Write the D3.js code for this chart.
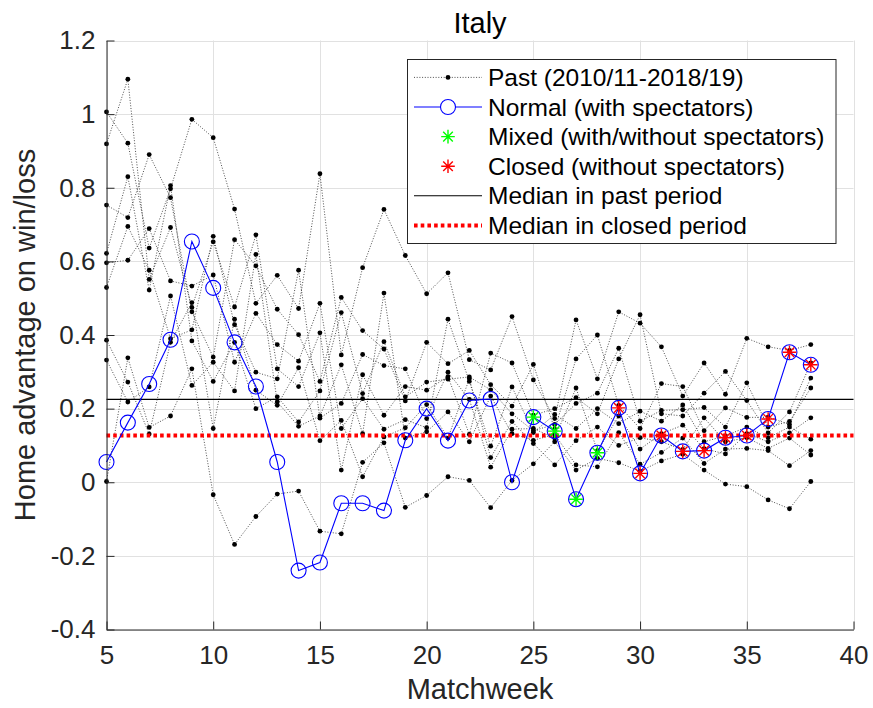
<!DOCTYPE html>
<html><head><meta charset="utf-8">
<script src="https://cdn.jsdelivr.net/npm/d3@7"></script>
<style>body{margin:0;background:#fff}svg{display:block;font-family:"Liberation Sans",Arial,Helvetica,sans-serif}</style>
</head><body><svg id="c" width="873" height="708"></svg>
<script>
// ---------- data ----------
const weeks = [5,6,7,8,9,10,11,12,13,14,15,16,17,18,19,20,21,22,23,24,25,26,27,28,29,30,31,32,33,34,35,36,37,38];
const past_2010_11 = [1.006,0.921,0.636,0.797,0.986,0.936,0.742,0.486,0.562,0.472,0.838,0.346,0.583,0.741,0.616,0.512,0.569,0.333,0.305,0.450,0.278,0.173,0.441,0.281,0.463,0.432,0.368,0.234,0.324,0.239,0.391,0.368,0.358,0.374];
const past_2011_12 = [0.919,1.095,0.551,0.692,0.475,0.653,0.476,0.672,0.308,0.260,0.406,0.033,0.292,0.182,0.260,0.250,0.287,0.130,0.351,0.324,0.182,0.200,0.230,0.186,0.335,0.455,0.186,0.180,0.242,0.301,0.222,0.134,0.191,0.324];
const past_2012_13 = [0.753,0.719,0.890,0.773,0.463,0.340,0.659,0.588,0.470,0.401,0.274,0.502,0.412,0.362,0.221,0.380,0.322,0.358,0.265,0.207,0.320,0.144,0.335,0.400,0.209,0.146,0.268,0.260,0.140,0.202,0.176,0.177,0.157,0.283];
const past_2013_14 = [0.622,0.830,0.522,0.806,0.384,0.274,0.380,0.200,0.232,0.164,0.248,0.461,0.241,0.382,0.232,0.272,0.280,0.286,0.251,0.186,0.140,0.157,0.214,0.242,0.364,0.166,0.195,0.197,0.203,0.150,0.270,0.150,0.165,0.256];
const past_2014_15 = [0.596,0.603,0.689,0.547,0.533,0.563,0.326,0.459,0.374,0.329,0.486,0.146,0.227,0.144,0.170,0.148,0.443,0.274,0.098,0.259,0.135,0.184,0.146,0.200,0.159,0.193,0.166,0.210,0.110,0.126,0.150,0.121,0.150,0.117];
const past_2015_16 = [0.529,0.695,0.576,0.390,0.414,0.668,0.428,0.299,0.281,0.576,0.174,0.214,0.347,0.317,0.308,0.173,0.299,0.225,0.041,0.144,0.146,0.120,0.256,0.085,0.180,0.090,0.132,0.155,0.091,0.077,0.132,0.110,0.134,0.175];
const past_2016_17 = [0.386,0.272,0.131,0.380,0.488,0.146,0.443,0.250,0.209,0.311,0.113,0.168,0.015,0.123,0.148,0.211,0.120,0.281,0.067,0.165,0.105,0.047,0.113,0.150,0.100,0.121,0.110,0.089,0.175,0.110,0.121,0.092,0.120,0.074];
const past_2017_18 = [0.332,0.218,0.259,0.506,0.263,0.326,0.248,0.619,0.218,0.152,0.180,0.319,0.132,0.514,0.120,0.137,0.191,0.110,0.234,0.132,0.114,0.130,0.047,0.042,0.135,0.049,0.081,0.120,0.051,0.090,0.092,0.086,0.045,0.086];
const past_2018_19 = [0.002,0.338,0.149,0.180,0.308,-0.034,-0.169,-0.093,-0.032,-0.024,-0.133,-0.140,0.054,0.107,-0.068,-0.036,0.015,0.005,-0.069,0.005,0.050,0.110,0.033,0.065,0.053,0.030,0.058,0.076,0.033,-0.005,-0.012,-0.048,-0.072,0.002];
const pastSeasons = [past_2010_11,past_2011_12,past_2012_13,past_2013_14,past_2014_15,past_2015_16,past_2016_17,past_2017_18,past_2018_19];
const current_2019_20 = [0.055,0.162,0.267,0.387,0.654,0.528,0.380,0.260,0.055,-0.240,-0.218,-0.057,-0.057,-0.077,0.114,0.200,0.113,0.222,0.226,0.000,0.177,0.139,-0.046,0.080,0.202,0.024,0.127,0.084,0.086,0.121,0.127,0.172,0.353,0.319];
const mixedWeeks = [25,26,27,28];
const closedWeeks = [29,30,31,32,33,34,35,36,37,38];
const pastMedian = 0.225;
const closedMedian = 0.127;
const xTicks = [5,10,15,20,25,30,35,40];
const yTicks = [-0.4,-0.2,0,0.2,0.4,0.6,0.8,1,1.2];
const legendLabels = ["Past (2010/11-2018/19)","Normal (with spectators)","Mixed (with/without spectators)","Closed (without spectators)","Median in past period","Median in closed period"];

// ---------- drawing ----------
const svg = d3.select("#c");
const L = 106.5, R = 853.5, T = 40.5, B = 629.5;
const x = d3.scaleLinear().domain([5,40]).range([L,R]);
const y = d3.scaleLinear().domain([-0.4,1.2]).range([B,T]);
const axisCol = "#262626";
const fmt = d => String(+d.toFixed(1));

// grid
const g = svg.append("g");
g.selectAll("line.gx").data(xTicks).join("line")
  .attr("x1",d=>Math.round(x(d))+0.5).attr("x2",d=>Math.round(x(d))+0.5).attr("y1",T).attr("y2",B)
  .attr("stroke","#e1e1e1").attr("stroke-width",1);
g.selectAll("line.gy").data(yTicks).join("line")
  .attr("y1",d=>Math.round(y(d))+0.5).attr("y2",d=>Math.round(y(d))+0.5).attr("x1",L).attr("x2",R)
  .attr("stroke","#e1e1e1").attr("stroke-width",1);

// past seasons
const line = d3.line().x((d,i)=>x(weeks[i])).y(d=>y(d));
const pg = svg.append("g");
pastSeasons.forEach(s=>{
  pg.append("path").attr("d",line(s)).attr("fill","none")
    .attr("stroke","#3a3a3a").attr("stroke-width",0.9).attr("stroke-dasharray","1 1.7");
});
pastSeasons.forEach(s=>{
  pg.selectAll(null).data(s).join("circle")
    .attr("cx",(d,i)=>x(weeks[i])).attr("cy",d=>y(d)).attr("r",2.4).attr("fill","#000");
});

// medians
svg.append("line").attr("x1",L).attr("x2",R).attr("y1",y(pastMedian)).attr("y2",y(pastMedian))
  .attr("stroke","#000").attr("stroke-width",1.1);
svg.append("line").attr("x1",L).attr("x2",R).attr("y1",y(closedMedian)).attr("y2",y(closedMedian))
  .attr("stroke","#ff0000").attr("stroke-width",4).attr("stroke-dasharray","3.6 3.1");

// current season
svg.append("path").attr("d",line(current_2019_20)).attr("fill","none").attr("stroke","#0000ff").attr("stroke-width",1.1);
svg.selectAll("circle.cur").data(current_2019_20).join("circle").attr("class","cur")
  .attr("cx",(d,i)=>x(weeks[i])).attr("cy",d=>y(d)).attr("r",7.5)
  .attr("fill","none").attr("stroke","#0000ff").attr("stroke-width",1.1);

function star(cx,cy,r){
  const a = r*0.7071;
  return `M${cx-r},${cy}L${cx+r},${cy}M${cx},${cy-r}L${cx},${cy+r}M${cx-a},${cy-a}L${cx+a},${cy+a}M${cx-a},${cy+a}L${cx+a},${cy-a}`;
}
const valAt = w => current_2019_20[weeks.indexOf(w)];
svg.selectAll("path.mixed").data(mixedWeeks).join("path").attr("class","mixed")
  .attr("d",w=>star(x(w),y(valAt(w)),6.8)).attr("stroke","#00ff00").attr("stroke-width",1.4).attr("fill","none");
svg.selectAll("path.closed").data(closedWeeks).join("path").attr("class","closed")
  .attr("d",w=>star(x(w),y(valAt(w)),6.8)).attr("stroke","#ff0000").attr("stroke-width",1.4).attr("fill","none");

// axes
const ax = svg.append("g").attr("transform",`translate(0,${B})`)
  .call(d3.axisBottom(x).tickValues(xTicks).tickFormat(fmt).tickSizeInner(-8).tickSizeOuter(0).tickPadding(16));
const ay = svg.append("g").attr("transform",`translate(${L},0)`)
  .call(d3.axisLeft(y).tickValues(yTicks).tickFormat(fmt).tickSizeInner(-8).tickSizeOuter(0).tickPadding(11));
[ax,ay].forEach(a=>{
  a.select(".domain").attr("stroke",axisCol).attr("stroke-width",1);
  a.selectAll(".tick line").attr("stroke",axisCol).attr("stroke-width",1);
  a.selectAll(".tick text").attr("fill",axisCol).style("font-size","26px").style("font-family",'"Liberation Sans",Arial,sans-serif');
});

// labels
svg.append("text").attr("x",480).attr("y",32.5).attr("text-anchor","middle")
  .style("font-size","29px").attr("fill","#000").text("Italy");
svg.append("text").attr("x",480).attr("y",699).attr("text-anchor","middle")
  .style("font-size","29px").attr("fill",axisCol).text("Matchweek");
svg.append("text").attr("transform","translate(35,335) rotate(-90)").attr("text-anchor","middle")
  .style("font-size","29px").attr("fill",axisCol).text("Home advantage on win/loss");

// legend
const lg = svg.append("g");
lg.append("rect").attr("x",407.5).attr("y",59.5).attr("width",428.5).attr("height",184)
  .attr("fill","#fff").attr("stroke",axisCol).attr("stroke-width",1);
const rowY = i => 77.4 + 29.6*i;
const sx1 = 414, sx2 = 482, sm = 448;
lg.selectAll("text.leg").data(legendLabels).join("text").attr("class","leg")
  .attr("x",488).attr("y",(d,i)=>rowY(i)).attr("dy","0.35em")
  .style("font-size","24.5px").attr("fill","#000").text(d=>d);
lg.append("line").attr("x1",sx1).attr("x2",sx2).attr("y1",rowY(0)).attr("y2",rowY(0))
  .attr("stroke","#3a3a3a").attr("stroke-width",0.9).attr("stroke-dasharray","1 1.7");
lg.append("circle").attr("cx",sm).attr("cy",rowY(0)).attr("r",2.4).attr("fill","#000");
lg.append("line").attr("x1",sx1).attr("x2",sx2).attr("y1",rowY(1)).attr("y2",rowY(1))
  .attr("stroke","#0000ff").attr("stroke-width",1.1);
lg.append("circle").attr("cx",sm).attr("cy",rowY(1)).attr("r",7.5).attr("fill","#fff").attr("stroke","#0000ff").attr("stroke-width",1.1);
lg.append("path").attr("d",star(sm,rowY(2),6.8)).attr("stroke","#00ff00").attr("stroke-width",1.4);
lg.append("path").attr("d",star(sm,rowY(3),6.8)).attr("stroke","#ff0000").attr("stroke-width",1.4);
lg.append("line").attr("x1",sx1).attr("x2",sx2).attr("y1",rowY(4)).attr("y2",rowY(4))
  .attr("stroke","#000").attr("stroke-width",1.1);
lg.append("line").attr("x1",sx1).attr("x2",sx2).attr("y1",rowY(5)).attr("y2",rowY(5))
  .attr("stroke","#ff0000").attr("stroke-width",4).attr("stroke-dasharray","3.6 3.1");
</script></body></html>
